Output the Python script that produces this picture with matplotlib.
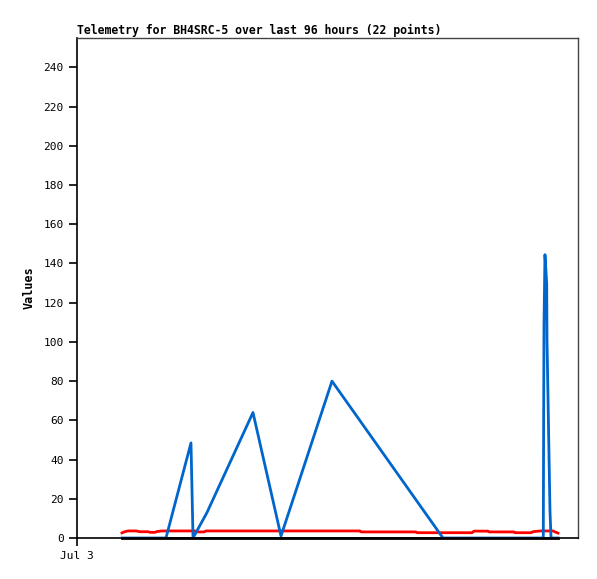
import matplotlib
matplotlib.use("Agg")
import matplotlib.pyplot as plt

TITLE = "Telemetry for BH4SRC-5 over last 96 hours (22 points)"
Y_LABEL = "Values"
X_TICKS = [0.0]
X_TICK_LABELS = ["Jul 3"]
Y_TICKS = [0, 20, 40, 60, 80, 100, 120, 140, 160, 180, 200, 220, 240]

# hours since Jul 3 00:00
BLUE_T = [8.62, 17.05, 21.84, 22.04, 22.23, 24.91, 33.72, 39.09, 48.86, 70.13,
          89.35, 89.39, 89.48, 89.67, 90.00, 90.06, 90.25, 90.44, 90.63, 90.83, 92.17]
BLUE_V = [0, 0, 48.5, 24, 0, 13, 64, 1, 80, 0,
          0, 36, 108, 144.5, 130, 101, 72, 43, 14, 0, 0]

RED_T = [8.62, 9.01, 9.77, 11.31, 12.07, 13.60, 13.99, 14.95, 15.33, 16.29,
         22.61, 23.19, 24.34, 24.72, 54.23, 54.42, 64.96, 65.15, 75.69, 76.07,
         78.75, 78.95, 83.74, 83.93, 87.00, 87.38, 88.72, 91.21, 91.78, 92.17]
RED_V = [2.6, 3.1, 3.6, 3.6, 3.2, 3.2, 2.9, 2.9, 3.3, 3.6,
         3.6, 3.1, 3.1, 3.6, 3.6, 3.1, 3.1, 2.7, 2.7, 3.5,
         3.5, 3.1, 3.1, 2.7, 2.7, 3.2, 3.6, 3.6, 2.9, 2.5]

BLACK_T = [8.62, 92.17]
BLACK_V = [0, 0]

X_RANGE = [0.0, 96.0]
Y_RANGE = [0.0, 255.0]

MONO = "DejaVu Sans Mono"
plt.rcParams["font.family"] = MONO
plt.rcParams["font.size"] = 8

fig = plt.figure(figsize=(5.97, 5.79), dpi=100)
ax = fig.add_axes([77 / 597, 41 / 579, 501 / 597, 500 / 579])

ax.plot(RED_T, RED_V, color="#FF0000", linewidth=2.0, zorder=2)
ax.plot(BLUE_T, BLUE_V, color="#0066CC", linewidth=2.0, zorder=3)
ax.plot(BLACK_T, BLACK_V, color="black", linewidth=2.0, zorder=4, clip_on=False)

ax.set_xlim(X_RANGE)
ax.set_ylim(Y_RANGE)
ax.set_xticks(X_TICKS)
ax.set_xticklabels(X_TICK_LABELS)
ax.set_yticks(Y_TICKS)
ax.tick_params(direction="out", length=6, width=1.2, colors="black", labelsize=8)

for side in ["left", "bottom"]:
    ax.spines[side].set_color("black")
    ax.spines[side].set_linewidth(1.2)
for side in ["top", "right"]:
    ax.spines[side].set_color("#444444")
    ax.spines[side].set_linewidth(1.0)

ax.set_ylabel(Y_LABEL, fontweight="bold", fontsize=8.5, labelpad=6)
ax.set_title(TITLE, loc="left", fontweight="bold", fontsize=8.3, pad=3)

fig.savefig("out.png", dpi=100)
